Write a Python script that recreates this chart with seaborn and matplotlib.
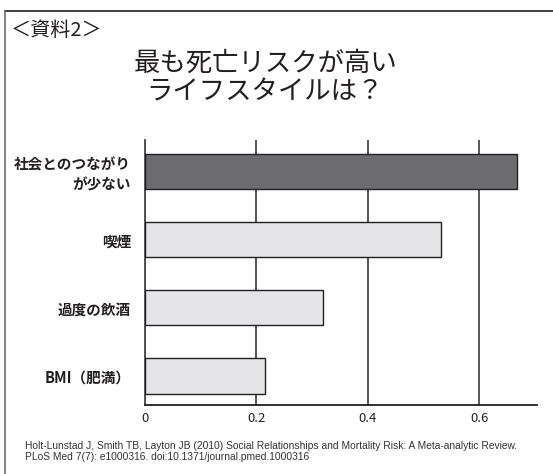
import matplotlib
matplotlib.use("Agg")
import matplotlib.pyplot as plt
from matplotlib.lines import Line2D
import seaborn as sns
import pandas as pd

# Relative mortality risk by lifestyle factor
categories = ["社会とのつながり\nが少ない", "喫煙", "過度の飲酒", "BMI（肥満）"]
values = [0.668, 0.532, 0.320, 0.216]
bar_colors = ["#6c6a6f", "#e4e5e8", "#e4e5e8", "#e4e5e8"]
x_ticks = [0, 0.2, 0.4, 0.6]
x_tick_labels = ["0", "0.2", "0.4", "0.6"]

sns.set_theme(style="white")
plt.rcParams["font.family"] = ["Noto Sans CJK JP", "DejaVu Sans"]

df = pd.DataFrame({"factor": categories, "risk": values})

fig = plt.figure(figsize=(5.53, 4.74), dpi=100)
ax = fig.add_axes([0.2622, 0.1456, 0.9705 - 0.2622, 0.7046 - 0.1456])

sns.barplot(data=df, x="risk", y="factor", hue="factor", palette=bar_colors,
            legend=False, orient="h", width=0.515, edgecolor="#231f20",
            linewidth=1.0, ax=ax, zorder=3)

ax.set_xlim(0, 0.703)
ax.set_ylim(3.425, -0.46)
ax.set_xticks(x_ticks)
ax.set_xticklabels(x_tick_labels, fontsize=9.5, color="#222222")
ax.xaxis.grid(True, color="#4a4648", linewidth=1.3, zorder=0)
ax.yaxis.grid(False)
ax.set_xlabel("")
ax.set_ylabel("")
for side in ["top", "right"]:
    ax.spines[side].set_visible(False)
ax.spines["left"].set_color("#4a4648")
ax.spines["left"].set_linewidth(1.3)
ax.spines["bottom"].set_color("#231f20")
ax.spines["bottom"].set_linewidth(1.3)
ax.tick_params(axis="x", length=0, pad=5)
ax.tick_params(axis="y", length=0, pad=10)
for lbl in ax.get_yticklabels():
    lbl.set_fontsize(10.5)
    lbl.set_fontweight("bold")
    lbl.set_color("#231f20")
    lbl.set_linespacing(1.25)
    lbl.set_horizontalalignment("right")
    lbl.set_multialignment("right")

# Outer frame (top and left edges)
fig.add_artist(Line2D([4.5 / 553, 1.0], [1 - 11 / 474, 1 - 11 / 474],
                      transform=fig.transFigure, color="#231f20", linewidth=1.2))
fig.add_artist(Line2D([4.5 / 553, 4.5 / 553], [0.0, 1 - 11 / 474],
                      transform=fig.transFigure, color="#6d6d6d", linewidth=1.2))

fig.text(11 / 553, 1 - 30 / 474, "＜資料2＞", fontsize=14.5, color="#231f20",
         ha="left", va="center")
fig.text(266 / 553, 1 - 63 / 474, "最も死亡リスクが高い", fontsize=19,
         color="#231f20", ha="center", va="center")
fig.text(265 / 553, 1 - 92 / 474, "ライフスタイルは？", fontsize=19,
         color="#231f20", ha="center", va="center")

fig.text(25 / 553, 1 - 446 / 474,
         "Holt-Lunstad J, Smith TB, Layton JB (2010) Social Relationships and "
         "Mortality Risk: A Meta-analytic Review.",
         fontsize=7.4, color="#333333", ha="left", va="center",
         family=["Liberation Sans", "DejaVu Sans"])
fig.text(25 / 553, 1 - 457 / 474,
         "PLoS Med 7(7): e1000316. doi:10.1371/journal.pmed.1000316",
         fontsize=7.4, color="#333333", ha="left", va="center",
         family=["Liberation Sans", "DejaVu Sans"])

fig.savefig("out.png", dpi=100, facecolor="white")
